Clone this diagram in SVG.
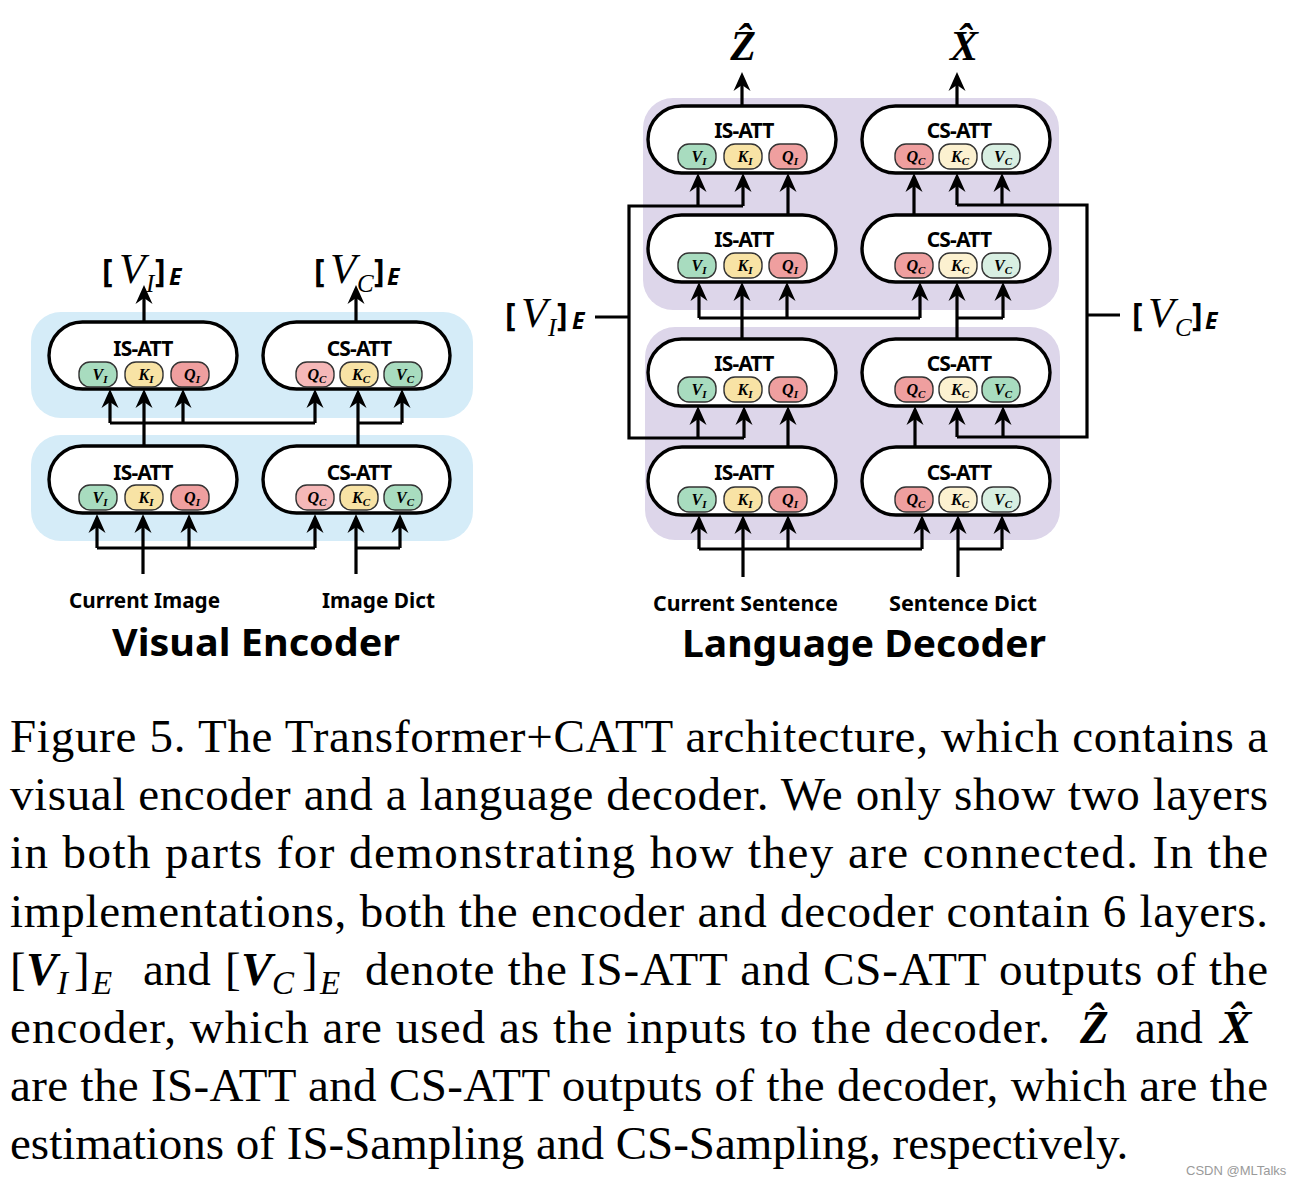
<svg xmlns="http://www.w3.org/2000/svg" width="1298" height="1186" viewBox="0 0 1298 1186">
<defs>
<marker id="ah" viewBox="-20 -10 20 20" refX="-8" refY="0" markerWidth="20" markerHeight="20" markerUnits="userSpaceOnUse" orient="auto">
<path d="M0,0 L-19,-8.5 L-13,0 L-19,8.5 Z" fill="#000"/>
</marker>
</defs>
<style>
.pill{fill:#fff;stroke:#000;stroke-width:3.4}
.chip{stroke:#333;stroke-width:1.4}
.g{fill:#a8dcbf}.gp{fill:#d8efe2}.y{fill:#f8e3a5}.yp{fill:#fcf1d0}.r{fill:#ef9f9f}.rp{fill:#f5b8b8}
.att{font-family:"Noto Sans",sans-serif;font-weight:700;font-size:21px;text-anchor:middle;letter-spacing:-0.8px}
.ct{font-family:"Liberation Serif",serif;font-weight:700;font-style:italic;font-size:16px;text-anchor:middle}
.sub{font-size:11px}
.wire{fill:none;stroke:#000;stroke-width:3.2}
.arr{marker-end:url(#ah)}
.bgb{fill:#d5ecf8}.bgp{fill:#ddd6ea}
.lab{font-family:"Noto Sans",sans-serif;font-weight:700;font-size:21px}
.title{font-family:"Noto Sans",sans-serif;font-weight:700;font-size:38px}
.cap{font-family:"Liberation Serif",serif;font-size:47px}
.br{font-family:"Noto Sans",sans-serif;font-weight:700;font-size:32px}
.mv{font-family:"Liberation Serif",serif;font-style:italic;font-size:43px}
.ms{font-family:"Liberation Serif",serif;font-style:italic;font-size:25px}
.me{font-family:"Noto Sans",sans-serif;font-weight:700;font-style:italic;font-size:23px}
.hat{font-family:"Liberation Serif",serif;font-weight:700;font-style:italic;font-size:42px;text-anchor:middle}
.cb{font-family:"Liberation Serif",serif;font-weight:700;font-style:italic;font-size:47px}
.ci{font-family:"Liberation Serif",serif;font-style:italic;font-size:33px}
</style>

<!-- backgrounds -->
<rect class="bgb" x="31" y="312" width="442" height="106" rx="30"/>
<rect class="bgb" x="31" y="435" width="442" height="106" rx="30"/>
<rect class="bgp" x="643" y="98" width="416" height="212" rx="30"/>
<rect class="bgp" x="645" y="327" width="415" height="213" rx="30"/>

<!-- Encoder nodes -->
<g id="enc-is-2">
<rect class="pill" x="49" y="322" width="188" height="67" rx="33.5"/>
<text class="att" x="143" y="356">IS-ATT</text>
<rect class="chip g" x="79" y="362" width="38" height="25" rx="11"/><text class="ct" x="100" y="380">V<tspan class="sub" dy="3">I</tspan></text>
<rect class="chip y" x="125" y="362" width="38" height="25" rx="11"/><text class="ct" x="146" y="380">K<tspan class="sub" dy="3">I</tspan></text>
<rect class="chip r" x="171" y="362" width="38" height="25" rx="11"/><text class="ct" x="192" y="380">Q<tspan class="sub" dy="3">I</tspan></text>
</g>
<g id="enc-cs-2">
<rect class="pill" x="263" y="322" width="187" height="67" rx="33.5"/>
<text class="att" x="359" y="356">CS-ATT</text>
<rect class="chip rp" x="296" y="362" width="38" height="25" rx="11"/><text class="ct" x="317" y="380">Q<tspan class="sub" dy="3">C</tspan></text>
<rect class="chip y" x="340" y="362" width="38" height="25" rx="11"/><text class="ct" x="361" y="380">K<tspan class="sub" dy="3">C</tspan></text>
<rect class="chip g" x="384" y="362" width="38" height="25" rx="11"/><text class="ct" x="405" y="380">V<tspan class="sub" dy="3">C</tspan></text>
</g>
<g id="enc-is-1">
<rect class="pill" x="49" y="446" width="188" height="67" rx="33.5"/>
<text class="att" x="143" y="480">IS-ATT</text>
<rect class="chip g" x="79" y="485" width="38" height="25" rx="11"/><text class="ct" x="100" y="503">V<tspan class="sub" dy="3">I</tspan></text>
<rect class="chip y" x="125" y="485" width="38" height="25" rx="11"/><text class="ct" x="146" y="503">K<tspan class="sub" dy="3">I</tspan></text>
<rect class="chip r" x="171" y="485" width="38" height="25" rx="11"/><text class="ct" x="192" y="503">Q<tspan class="sub" dy="3">I</tspan></text>
</g>
<g id="enc-cs-1">
<rect class="pill" x="263" y="446" width="187" height="67" rx="33.5"/>
<text class="att" x="359" y="480">CS-ATT</text>
<rect class="chip rp" x="296" y="485" width="38" height="25" rx="11"/><text class="ct" x="317" y="503">Q<tspan class="sub" dy="3">C</tspan></text>
<rect class="chip y" x="340" y="485" width="38" height="25" rx="11"/><text class="ct" x="361" y="503">K<tspan class="sub" dy="3">C</tspan></text>
<rect class="chip g" x="384" y="485" width="38" height="25" rx="11"/><text class="ct" x="405" y="503">V<tspan class="sub" dy="3">C</tspan></text>
</g>

<!-- Decoder nodes -->
<g id="dec-is-4">
<rect class="pill" x="648" y="106" width="188" height="67" rx="33.5"/>
<text class="att" x="744" y="138">IS-ATT</text>
<rect class="chip g" x="678" y="144" width="38" height="25" rx="11"/><text class="ct" x="699" y="162">V<tspan class="sub" dy="3">I</tspan></text>
<rect class="chip y" x="724" y="144" width="38" height="25" rx="11"/><text class="ct" x="745" y="162">K<tspan class="sub" dy="3">I</tspan></text>
<rect class="chip r" x="769" y="144" width="38" height="25" rx="11"/><text class="ct" x="790" y="162">Q<tspan class="sub" dy="3">I</tspan></text>
</g>
<g id="dec-cs-4">
<rect class="pill" x="862" y="106" width="188" height="67" rx="33.5"/>
<text class="att" x="959" y="138">CS-ATT</text>
<rect class="chip r" x="895" y="144" width="38" height="25" rx="11"/><text class="ct" x="916" y="162">Q<tspan class="sub" dy="3">C</tspan></text>
<rect class="chip yp" x="939" y="144" width="38" height="25" rx="11"/><text class="ct" x="960" y="162">K<tspan class="sub" dy="3">C</tspan></text>
<rect class="chip gp" x="982" y="144" width="38" height="25" rx="11"/><text class="ct" x="1003" y="162">V<tspan class="sub" dy="3">C</tspan></text>
</g>
<g id="dec-is-3">
<rect class="pill" x="648" y="215" width="188" height="67" rx="33.5"/>
<text class="att" x="744" y="247">IS-ATT</text>
<rect class="chip g" x="678" y="253" width="38" height="25" rx="11"/><text class="ct" x="699" y="271">V<tspan class="sub" dy="3">I</tspan></text>
<rect class="chip y" x="724" y="253" width="38" height="25" rx="11"/><text class="ct" x="745" y="271">K<tspan class="sub" dy="3">I</tspan></text>
<rect class="chip r" x="769" y="253" width="38" height="25" rx="11"/><text class="ct" x="790" y="271">Q<tspan class="sub" dy="3">I</tspan></text>
</g>
<g id="dec-cs-3">
<rect class="pill" x="862" y="215" width="188" height="67" rx="33.5"/>
<text class="att" x="959" y="247">CS-ATT</text>
<rect class="chip r" x="895" y="253" width="38" height="25" rx="11"/><text class="ct" x="916" y="271">Q<tspan class="sub" dy="3">C</tspan></text>
<rect class="chip yp" x="939" y="253" width="38" height="25" rx="11"/><text class="ct" x="960" y="271">K<tspan class="sub" dy="3">C</tspan></text>
<rect class="chip gp" x="982" y="253" width="38" height="25" rx="11"/><text class="ct" x="1003" y="271">V<tspan class="sub" dy="3">C</tspan></text>
</g>
<g id="dec-is-2">
<rect class="pill" x="648" y="339" width="188" height="67" rx="33.5"/>
<text class="att" x="744" y="371">IS-ATT</text>
<rect class="chip g" x="678" y="377" width="38" height="25" rx="11"/><text class="ct" x="699" y="395">V<tspan class="sub" dy="3">I</tspan></text>
<rect class="chip y" x="724" y="377" width="38" height="25" rx="11"/><text class="ct" x="745" y="395">K<tspan class="sub" dy="3">I</tspan></text>
<rect class="chip r" x="769" y="377" width="38" height="25" rx="11"/><text class="ct" x="790" y="395">Q<tspan class="sub" dy="3">I</tspan></text>
</g>
<g id="dec-cs-2">
<rect class="pill" x="862" y="339" width="188" height="67" rx="33.5"/>
<text class="att" x="959" y="371">CS-ATT</text>
<rect class="chip r" x="895" y="377" width="38" height="25" rx="11"/><text class="ct" x="916" y="395">Q<tspan class="sub" dy="3">C</tspan></text>
<rect class="chip yp" x="939" y="377" width="38" height="25" rx="11"/><text class="ct" x="960" y="395">K<tspan class="sub" dy="3">C</tspan></text>
<rect class="chip g" x="982" y="377" width="38" height="25" rx="11"/><text class="ct" x="1003" y="395">V<tspan class="sub" dy="3">C</tspan></text>
</g>
<g id="dec-is-1">
<rect class="pill" x="648" y="447" width="188" height="68" rx="34"/>
<text class="att" x="744" y="480">IS-ATT</text>
<rect class="chip g" x="678" y="487" width="38" height="25" rx="11"/><text class="ct" x="699" y="505">V<tspan class="sub" dy="3">I</tspan></text>
<rect class="chip y" x="724" y="487" width="38" height="25" rx="11"/><text class="ct" x="745" y="505">K<tspan class="sub" dy="3">I</tspan></text>
<rect class="chip r" x="769" y="487" width="38" height="25" rx="11"/><text class="ct" x="790" y="505">Q<tspan class="sub" dy="3">I</tspan></text>
</g>
<g id="dec-cs-1">
<rect class="pill" x="862" y="447" width="188" height="68" rx="34"/>
<text class="att" x="959" y="480">CS-ATT</text>
<rect class="chip r" x="895" y="487" width="38" height="25" rx="11"/><text class="ct" x="916" y="505">Q<tspan class="sub" dy="3">C</tspan></text>
<rect class="chip yp" x="939" y="487" width="38" height="25" rx="11"/><text class="ct" x="960" y="505">K<tspan class="sub" dy="3">C</tspan></text>
<rect class="chip gp" x="982" y="487" width="38" height="25" rx="11"/><text class="ct" x="1003" y="505">V<tspan class="sub" dy="3">C</tspan></text>
</g>

<!-- connectors -->
<g id="connectors" class="wire">
<path d="M110,423 H315"/>
<path class="arr" d="M110,423 V397"/>
<path class="arr" d="M144,446 V397"/>
<path class="arr" d="M183,423 V397"/>
<path class="arr" d="M315,423 V397"/>
<path d="M358,423 H402"/>
<path class="arr" d="M358,446 V397"/>
<path class="arr" d="M402,423 V397"/>
<path class="arr" d="M144,322 V293"/>
<path class="arr" d="M356,322 V293"/>
<path d="M97,548 H315"/>
<path class="arr" d="M97,548 V522"/>
<path class="arr" d="M143,574 V522"/>
<path class="arr" d="M189,548 V522"/>
<path class="arr" d="M315,548 V522"/>
<path d="M356,548 H400"/>
<path class="arr" d="M356,574 V522"/>
<path class="arr" d="M400,548 V522"/>
<path class="arr" d="M742,106 V80"/>
<path class="arr" d="M957,106 V80"/>
<path d="M744,438 H629 V206 H743"/>
<path d="M595,317 H629"/>
<path d="M957,205 H1087 V437 H957"/>
<path d="M1087,315 H1120"/>
<path class="arr" d="M698,206 V181"/>
<path class="arr" d="M743,206 V181"/>
<path class="arr" d="M788,215 V181"/>
<path class="arr" d="M914,215 V181"/>
<path class="arr" d="M957,205 V181"/>
<path class="arr" d="M1002,205 V181"/>
<path d="M699,318 H920"/>
<path class="arr" d="M699,318 V290"/>
<path class="arr" d="M742,339 V290"/>
<path class="arr" d="M787,318 V290"/>
<path class="arr" d="M920,318 V290"/>
<path d="M957,318 H1003"/>
<path class="arr" d="M957,339 V290"/>
<path class="arr" d="M1003,318 V290"/>
<path class="arr" d="M698,438 V414"/>
<path class="arr" d="M744,438 V414"/>
<path class="arr" d="M788,447 V414"/>
<path class="arr" d="M915,447 V414"/>
<path class="arr" d="M957,437 V414"/>
<path class="arr" d="M1003,437 V414"/>
<path d="M699,549 H922"/>
<path class="arr" d="M699,549 V523"/>
<path class="arr" d="M743,577 V523"/>
<path class="arr" d="M788,549 V523"/>
<path class="arr" d="M922,549 V523"/>
<path d="M958,549 H1002"/>
<path class="arr" d="M958,577 V523"/>
<path class="arr" d="M1002,549 V523"/>
</g>

<!-- math labels in diagram -->
<g id="lbl-enc-vi">
<text class="br" x="102" y="282">[</text>
<text class="mv" x="119" y="283">V</text>
<text class="ms" x="146" y="292">I</text>
<text class="br" x="155" y="282">]</text>
<text class="me" x="169" y="285">E</text>
</g>
<g id="lbl-enc-vc">
<text class="br" x="314" y="282">[</text>
<text class="mv" x="330" y="283">V</text>
<text class="ms" x="357" y="292">C</text>
<text class="br" x="374" y="282">]</text>
<text class="me" x="387" y="285">E</text>
</g>
<g id="lbl-dec-vi">
<text class="br" x="505" y="326">[</text>
<text class="mv" x="521" y="327">V</text>
<text class="ms" x="548" y="336">I</text>
<text class="br" x="557" y="326">]</text>
<text class="me" x="572" y="329">E</text>
</g>
<g id="lbl-dec-vc">
<text class="br" x="1132" y="326">[</text>
<text class="mv" x="1148" y="327">V</text>
<text class="ms" x="1175" y="336">C</text>
<text class="br" x="1192" y="326">]</text>
<text class="me" x="1205" y="329">E</text>
</g>
<g id="lbl-zhat">
<text class="hat" x="743" y="60">Z&#x302;</text>
</g>
<g id="lbl-xhat">
<text class="hat" x="964" y="60">X&#x302;</text>
</g>

<!-- input labels and titles -->
<text class="lab" x="69" y="608" textLength="151" lengthAdjust="spacingAndGlyphs">Current Image</text>
<text class="lab" x="322" y="608" textLength="113" lengthAdjust="spacingAndGlyphs">Image Dict</text>
<text class="lab" x="653" y="611" textLength="185" lengthAdjust="spacingAndGlyphs">Current Sentence</text>
<text class="lab" x="889" y="611" textLength="148" lengthAdjust="spacingAndGlyphs">Sentence Dict</text>
<text class="title" x="112" y="656" textLength="288" lengthAdjust="spacingAndGlyphs">Visual Encoder</text>
<text class="title" x="682" y="657" textLength="364" lengthAdjust="spacingAndGlyphs">Language Decoder</text>

<!-- caption -->
<g id="caption">
<text class="cap" x="10" y="752" textLength="1258">Figure 5. The Transformer+CATT architecture, which contains a</text>
<text class="cap" x="10" y="810" textLength="1258">visual encoder and a language decoder. We only show two layers</text>
<text class="cap" x="10" y="868" textLength="1258">in both parts for demonstrating how they are connected. In the</text>
<text class="cap" x="10" y="927" textLength="1258">implementations, both the encoder and decoder contain 6 layers.</text>
<text class="cap" x="10" y="985">[</text>
<text class="cb" x="26" y="985">V</text>
<text class="ci" x="57" y="994">I</text>
<text class="cap" x="74" y="985">]</text>
<text class="ci" x="92" y="994">E</text>
<text class="cap" x="143" y="985">and</text>
<text class="cap" x="225" y="985">[</text>
<text class="cb" x="241" y="985">V</text>
<text class="ci" x="272" y="994">C</text>
<text class="cap" x="302" y="985">]</text>
<text class="ci" x="320" y="994">E</text>
<text class="cap" x="365" y="985" textLength="903">denote the IS-ATT and CS-ATT outputs of the</text>
<text class="cap" x="10" y="1043" textLength="1040">encoder, which are used as the inputs to the decoder.</text>
<text class="cb" x="1080" y="1043">Z&#x302;</text>
<text class="cap" x="1135" y="1043">and</text>
<text class="cb" x="1220" y="1043">X&#x302;</text>
<text class="cap" x="10" y="1101" textLength="1258">are the IS-ATT and CS-ATT outputs of the decoder, which are the</text>
<text class="cap" x="10" y="1159">estimations of IS-Sampling and CS-Sampling, respectively.</text>
</g>
<text x="1186" y="1175" font-family="Liberation Sans, sans-serif" font-size="13" fill="#9a9a9a">CSDN @MLTalks</text>
</svg>
